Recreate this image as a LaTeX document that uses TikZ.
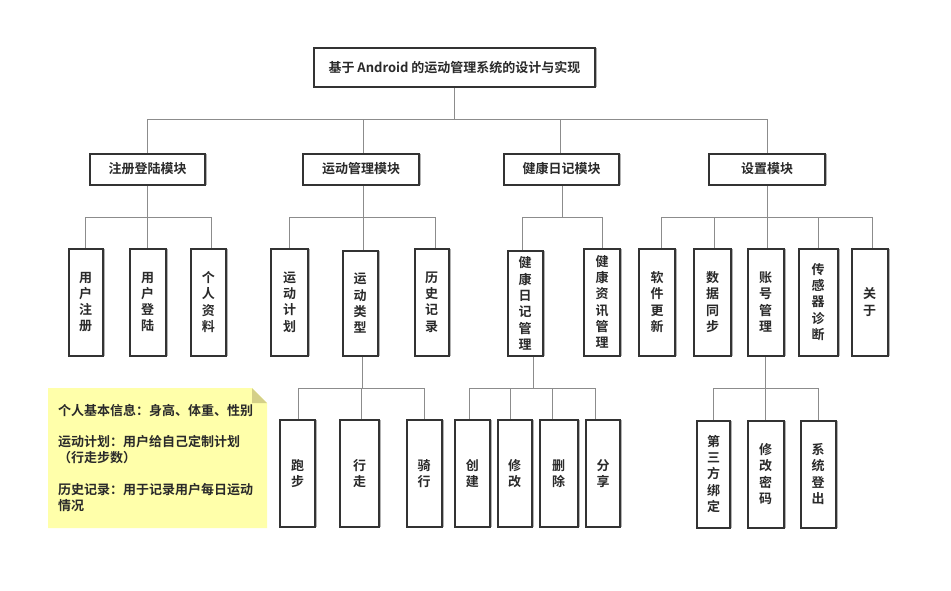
\documentclass[tikz,border=0pt]{standalone}
\usepackage{fontspec}
\setmainfont{Noto Sans CJK SC}[BoldFont={Noto Sans CJK SC Bold}]
\usetikzlibrary{backgrounds,shadows}
\definecolor{boxc}{HTML}{333333}
\definecolor{textc}{HTML}{2A2A2A}
\definecolor{connc}{HTML}{8C8C8C}
\definecolor{notefill}{HTML}{FFFFAA}
\definecolor{notefold}{HTML}{D4D088}
\newcommand\bx[6]{\node[box, minimum width=#4pt-2pt, minimum height=#5pt-2pt] (#1) at (#2,#3) {#6};}
\begin{document}
\begin{tikzpicture}[x=1pt,y=-1pt,
  box/.style={draw=boxc, line width=2pt, fill=white, inner sep=0pt, text=textc, align=center,
    font=\bfseries\fontsize{13}{16.3}\selectfont,
    general shadow={shadow xshift=2pt, shadow yshift=0pt, fill=black!30}},
  conn/.style={draw=connc, line width=1pt},
  notetext/.style={inner sep=0pt, align=left, text=textc, font=\bfseries\fontsize{13}{16}\selectfont}]
\useasboundingbox (0,0) rectangle (951,590);

% title and modules
\bx{title}{454.5}{67.5}{283}{41}{基于 Android 的运动管理系统的设计与实现}
\bx{m1}{147.5}{169}{117}{33}{注册登陆模块}
\bx{m2}{361}{169}{118}{33}{运动管理模块}
\bx{m3}{561.5}{169}{117}{33}{健康日记模块}
\bx{m4}{767}{169}{118}{33}{设置模块}

% level 2
\bx{a1}{85.5}{302}{36}{109}{用\\户\\注\\册}
\bx{a2}{147.7}{302}{38}{109}{用\\户\\登\\陆}
\bx{a3}{208.3}{302}{37}{109}{个\\人\\资\\料}
\bx{b1}{289.5}{302}{39}{109}{运\\动\\计\\划}
\bx{b2}{360}{303.5}{37}{107}{运\\动\\类\\型}
\bx{b3}{431.7}{302}{36}{109}{历\\史\\记\\录}
\bx{c1}{525}{303.5}{37}{107}{健\\康\\日\\记\\管\\理}
\bx{c2}{602}{302}{38}{109}{健\\康\\资\\讯\\管\\理}
\bx{d1}{657}{302}{38}{109}{软\\件\\更\\新}
\bx{d2}{712.5}{302}{39}{109}{数\\据\\同\\步}
\bx{d3}{765.7}{302}{38}{109}{账\\号\\管\\理}
\bx{d4}{818}{302}{41}{109}{传\\感\\器\\诊\\断}
\bx{d5}{869.7}{302}{38}{109}{关\\于}

% level 3
\bx{e1}{297.5}{473.5}{37}{109}{跑\\步}
\bx{e2}{359.5}{473.5}{41}{109}{行\\走}
\bx{e3}{424.2}{473.5}{37}{109}{骑\\行}
\bx{f1}{472.3}{473.5}{37}{109}{创\\建}
\bx{f2}{514.7}{473.5}{36}{109}{修\\改}
\bx{f3}{558.7}{473.5}{40}{109}{删\\除}
\bx{f4}{603}{473.5}{36}{109}{分\\享}
\bx{g1}{713.7}{474}{35}{109}{第\\三\\方\\绑\\定}
\bx{g2}{765.7}{474}{38}{109}{修\\改\\密\\码}
\bx{g3}{818}{474}{37}{109}{系\\统\\登\\出}

% bus levels
\coordinate (bus0) at (0,119);
\coordinate (bus1) at (0,217.7);
\coordinate (bus2) at (0,388.5);

\begin{scope}[on background layer]
  \fill[white] (0,0) rectangle (951,590);
  % top level
  \draw[conn] (title.south) -- (title.south |- bus0);
  \draw[conn] (m1.north) -- (m1.north |- bus0) -- (m4.north |- bus0) -- (m4.north);
  \draw[conn] ([xshift=2pt]m2.north) -- ([xshift=2pt]m2.north |- bus0);
  \draw[conn] ([xshift=-1pt]m3.north) -- ([xshift=-1pt]m3.north |- bus0);
  % group A
  \draw[conn] (m1.south) -- (m1.south |- bus1);
  \draw[conn] (a1.north) -- (a1.north |- bus1) -- ([xshift=3pt]a3.north |- bus1) -- ([xshift=3pt]a3.north);
  \draw[conn] (a2.north) -- (a2.north |- bus1);
  % group B
  \draw[conn] ([xshift=2pt]m2.south) -- ([xshift=2pt]m2.south |- bus1);
  \draw[conn] (b1.north) -- (b1.north |- bus1) -- ([xshift=4pt]b3.north |- bus1) -- ([xshift=4pt]b3.north);
  \draw[conn] ([xshift=3pt]b2.north) -- ([xshift=3pt]b2.north |- bus1);
  % group C
  \draw[conn] ([xshift=1pt]m3.south) -- ([xshift=1pt]m3.south |- bus1);
  \draw[conn] ([xshift=-3pt]c1.north) -- ([xshift=-3pt]c1.north |- bus1) -- (c2.north |- bus1) -- (c2.north);
  % group D
  \draw[conn] (m4.south) -- (m4.south |- bus1);
  \draw[conn] ([xshift=4pt]d1.north) -- ([xshift=4pt]d1.north |- bus1) -- ([xshift=2.5pt]d5.north |- bus1) -- ([xshift=2.5pt]d5.north);
  \draw[conn] ([xshift=2pt]d2.north) -- ([xshift=2pt]d2.north |- bus1);
  \draw[conn] ([xshift=1.5pt]d3.north) -- ([xshift=1.5pt]d3.north |- bus1);
  \draw[conn] (d4.north) -- (d4.north |- bus1);
  % group E
  \draw[conn] ([xshift=2pt]b2.south) -- ([xshift=2pt]b2.south |- bus2);
  \draw[conn] ([xshift=1pt]e1.north) -- ([xshift=1pt]e1.north |- bus2) -- (e3.north |- bus2) -- (e3.north);
  \draw[conn] ([xshift=2pt]e2.north) -- ([xshift=2pt]e2.north |- bus2);
  % group F
  \draw[conn] ([xshift=8pt]c1.south) -- ([xshift=8pt]c1.south |- bus2);
  \draw[conn] ([xshift=-3pt]f1.north) -- ([xshift=-3pt]f1.north |- bus2) -- ([xshift=-8pt]f4.north |- bus2) -- ([xshift=-8pt]f4.north);
  \draw[conn] ([xshift=-4pt]f2.north) -- ([xshift=-4pt]f2.north |- bus2);
  \draw[conn] ([xshift=-6pt]f3.north) -- ([xshift=-6pt]f3.north |- bus2);
  % group G
  \draw[conn] (d3.south) -- (d3.south |- bus2);
  \draw[conn] (g1.north) -- (g1.north |- bus2) -- (g3.north |- bus2) -- (g3.north);
  \draw[conn] (g2.north) -- (g2.north |- bus2);
\end{scope}

% note
\fill[notefill] (48,388) -- (252,388) -- (267,403) -- (267,528) -- (48,528) -- cycle;
\fill[notefold] (252,388) -- (267,403) -- (252,403) -- cycle;
\node[notetext, anchor=west] (note) at (58,458) {个人基本信息：身高、体重、性别\\[15pt]运动计划：用户给自己定制计划\\（行走步数）\\[16pt]历史记录：用于记录用户每日运动\\情况};
\end{tikzpicture}
\end{document}
